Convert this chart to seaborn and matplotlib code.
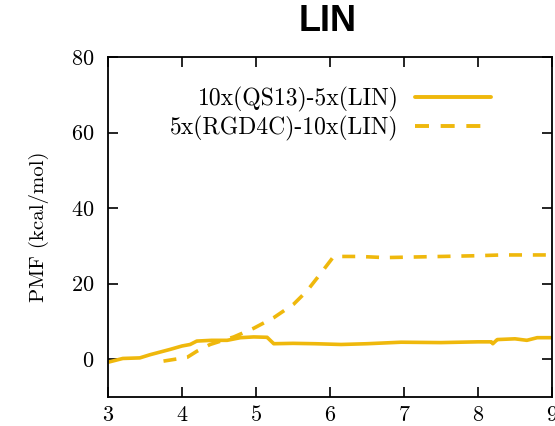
import numpy as np
import pandas as pd
import matplotlib
matplotlib.use("Agg")
import matplotlib.pyplot as plt
import seaborn as sns
from matplotlib.lines import Line2D

# PMF profiles along the reaction coordinate
x_qs13 = [3.0, 3.2, 3.43, 3.57, 3.84, 4.0, 4.11, 4.2, 4.4, 4.61, 4.79, 4.97, 5.15,
          5.24, 5.5, 5.8, 6.15, 6.5, 6.96, 7.5, 8.0, 8.18, 8.2, 8.26, 8.5, 8.66, 8.8, 9.0]
pmf_qs13 = [-0.8, 0.2, 0.35, 1.2, 2.6, 3.5, 3.9, 4.8, 5.0, 5.0, 5.7, 5.9, 5.8,
            4.1, 4.2, 4.1, 3.9, 4.1, 4.5, 4.4, 4.6, 4.6, 4.1, 5.2, 5.4, 5.0, 5.7, 5.7]

x_rgd = [3.75, 4.07, 4.2, 4.38, 4.7, 4.97, 5.24, 5.51, 5.69, 5.87, 6.05,
         6.4, 6.74, 7.0, 7.5, 8.0, 8.32, 8.7, 9.0]
pmf_rgd = [-0.5, 0.5, 2.1, 3.9, 5.9, 8.2, 11.0, 14.6, 18.1, 22.6, 27.2,
           27.2, 26.9, 27.0, 27.2, 27.4, 27.6, 27.6, 27.6]

labels = ["10x(QS13)-5x(LIN)", "5x(RGD4C)-10x(LIN)"]
title = "LIN"
xticks = [3, 4, 5, 6, 7, 8, 9]
yticks = [0, 20, 40, 60, 80]

df = pd.concat([
    pd.DataFrame({"x": x_qs13, "pmf": pmf_qs13, "system": labels[0]}),
    pd.DataFrame({"x": x_rgd, "pmf": pmf_rgd, "system": labels[1]}),
])

sns.set_style("ticks")
plt.rcParams["font.family"] = ["cmr10", "DejaVu Serif"]
plt.rcParams["mathtext.fontset"] = "cm"
plt.rcParams["axes.formatter.use_mathtext"] = True
plt.rcParams["text.color"] = "black"

gold = "#EFB80C"

fig = plt.figure(figsize=(5.55, 4.26), dpi=100)
ax = fig.add_axes([0.1946, 0.0681, 0.80, 0.7981])

sns.lineplot(data=df, x="x", y="pmf", hue="system", style="system",
             palette=[gold, gold], dashes=[(1, 0), (3.6, 3.0)],
             linewidth=2.6, ax=ax, legend=False, estimator=None, sort=False)

for line in ax.get_lines():
    line.set_solid_capstyle("round")
    line.set_dash_capstyle("butt")

ax.set_xlim(3, 9)
ax.set_ylim(-10, 80)
ax.set_xticks(xticks)
ax.set_yticks(yticks)
ax.set_xlabel("")
ax.set_ylabel("PMF (kcal/mol)", fontsize=15, labelpad=16, color="black")

ax.tick_params(direction="in", length=7, width=1.2, top=True, right=True,
               labelsize=16, colors="black")
ax.tick_params(axis="y", pad=10)
ax.tick_params(axis="x", pad=6)
for s in ax.spines.values():
    s.set_linewidth(1.3)
    s.set_color("black")

handles = [Line2D([], [], color=gold, lw=2.8, solid_capstyle="round"),
           Line2D([], [], color=gold, lw=2.8, linestyle=(0, (3.6, 3.0)))]
ax.legend(handles, labels, loc="upper right", bbox_to_anchor=(0.862, 0.912),
          frameon=False, markerfirst=False, handlelength=3.2, handletextpad=0.7,
          labelspacing=0.15, borderpad=0, borderaxespad=0, fontsize=17)

fig.suptitle(title, x=0.59, y=0.99, fontsize=26, fontweight="bold",
             family="Liberation Sans", color="black")

fig.savefig("out.png", dpi=100)
